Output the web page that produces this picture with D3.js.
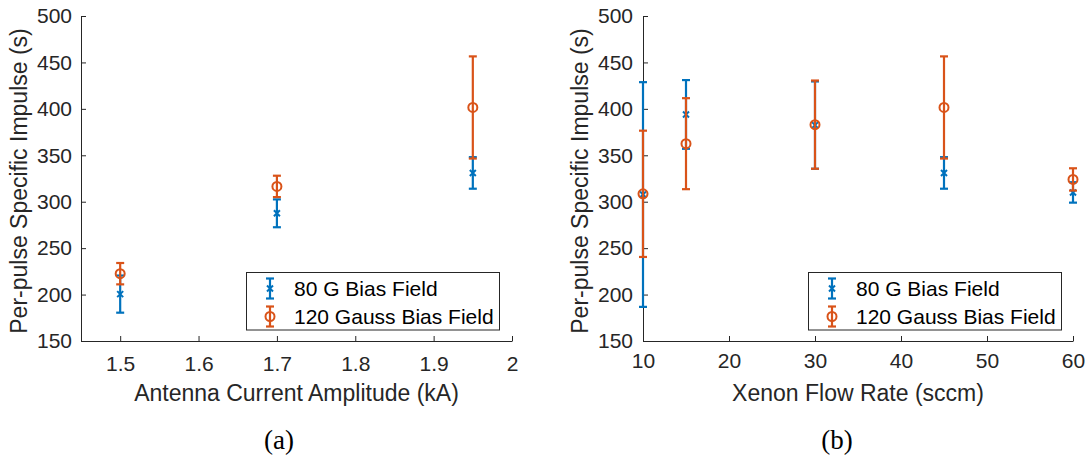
<!DOCTYPE html>
<html><head><meta charset="utf-8">
<script src="https://cdn.jsdelivr.net/npm/d3@7"></script>
<style>
html,body{margin:0;padding:0;background:#fff;}
svg{display:block;}
text{font-family:"Liberation Sans",Arial,Helvetica,sans-serif;}
</style>
</head><body>
<svg id="chart" width="1087" height="458"></svg>
<script>
// ---------- data ----------
const currentKA   = [1.5, 1.7, 1.95];
const isp80A      = [200.5, 287.5, 331];
const err80A      = [20, 15, 17];
const isp120A     = [222.5, 316.5, 401.5];
const err120A     = [11.5, 11.5, 55];

const flowSccm    = [10, 15, 30, 45, 60];
const isp80B      = [307.75, 394, 382.5, 331, 310];
const err80B      = [121, 37, 47, 17, 11];
const isp120B     = [308.5, 362.5, 383, 401.5, 324];
const err120B     = [68, 49, 47.5, 55, 12];

const yTicks      = [150, 200, 250, 300, 350, 400, 450, 500];
const xTicksA     = [1.5, 1.6, 1.7, 1.8, 1.9, 2];
const xTicksB     = [10, 20, 30, 40, 50, 60];
const seriesNames = ["80 G Bias Field", "120 Gauss Bias Field"];
const yLabel      = "Per-pulse Specific Impulse (s)";
const xLabelA     = "Antenna Current Amplitude (kA)";
const xLabelB     = "Xenon Flow Rate (sccm)";

// ---------- style ----------
const BLUE = "#0072BD", ORANGE = "#D95319", AX = "#262626";
const svg = d3.select("#chart");

function errorbars(g, x, y, xs, vals, errs, color, marker) {
  const grp = g.append("g");
  xs.forEach((xv, i) => {
    const cx = x(xv), top = y(vals[i] + errs[i]), bot = y(vals[i] - errs[i]), cy = y(vals[i]);
    grp.append("line").attr("x1", cx).attr("x2", cx).attr("y1", top).attr("y2", bot)
      .attr("stroke", color).attr("stroke-width", 2.2);
    [top, bot].forEach(yy => grp.append("line").attr("x1", cx - 4).attr("x2", cx + 4)
      .attr("y1", yy).attr("y2", yy).attr("stroke", color).attr("stroke-width", 2.2));
    drawMarker(grp, cx, cy, color, marker);
  });
}
function drawMarker(g, cx, cy, color, marker) {
  if (marker === "o") {
    g.append("circle").attr("cx", cx).attr("cy", cy).attr("r", 4.5)
      .attr("fill", "none").attr("stroke", color).attr("stroke-width", 2);
  } else {
    const s = 3;
    g.append("path").attr("d", `M${cx - s},${cy - s}L${cx + s},${cy + s}M${cx - s},${cy + s}L${cx + s},${cy - s}`)
      .attr("stroke", color).attr("stroke-width", 2).attr("fill", "none");
  }
}

function panel(opts) {
  const g = svg.append("g");
  const x = d3.scaleLinear().domain(opts.xDomain).range(opts.xRange);
  const y = d3.scaleLinear().domain([150, 500]).range([341, 16]);

  const xa = g.append("g").attr("transform", "translate(0,341)")
    .call(d3.axisBottom(x).tickValues(opts.xTicks).tickFormat(d3.format("~g"))
      .tickSizeInner(-5).tickSizeOuter(0).tickPadding(opts.xPad));
  const ya = g.append("g").attr("transform", `translate(${opts.xRange[0]},0)`)
    .call(d3.axisLeft(y).tickValues(yTicks).tickSizeInner(-5).tickSizeOuter(0).tickPadding(opts.yPad));
  [xa, ya].forEach(a => {
    a.selectAll("path,line").attr("stroke", AX).attr("stroke-width", 1);
    a.selectAll("text").attr("fill", AX).style("font-size", "21px")
      .style("font-family", '"Liberation Sans",Arial,sans-serif');
  });

  g.append("text").attr("transform", `translate(${opts.yLabX},181) rotate(-90)`)
    .attr("text-anchor", "middle").attr("dominant-baseline", "middle")
    .attr("fill", AX).style("font-size", "23px").text(yLabel);
  g.append("text").attr("x", (opts.xRange[0] + opts.xRange[1]) / 2).attr("y", 401)
    .attr("text-anchor", "middle").attr("fill", AX).style("font-size", "23px").text(opts.xLabel);

  errorbars(g, x, y, opts.xs, opts.v80, opts.e80, BLUE, "x");
  errorbars(g, x, y, opts.xs, opts.v120, opts.e120, ORANGE, "o");

  // legend
  const lg = g.append("g").attr("transform", `translate(${opts.legX},272.5)`);
  lg.append("rect").attr("x", 0).attr("y", 0).attr("width", 253).attr("height", 57.5)
    .attr("fill", "#fff").attr("stroke", AX).attr("stroke-width", 1);
  seriesNames.forEach((name, i) => {
    const cy = 16 + i * 28, sx = 23.5, col = i === 0 ? BLUE : ORANGE;
    lg.append("line").attr("x1", sx).attr("x2", sx).attr("y1", cy - 10).attr("y2", cy + 10)
      .attr("stroke", col).attr("stroke-width", 2.2);
    [cy - 10, cy + 10].forEach(yy => lg.append("line").attr("x1", sx - 4).attr("x2", sx + 4)
      .attr("y1", yy).attr("y2", yy).attr("stroke", col).attr("stroke-width", 2.2));
    drawMarker(lg, sx, cy, col, i === 0 ? "x" : "o");
    lg.append("text").attr("x", 47.5).attr("y", cy + 1.5).attr("dominant-baseline", "middle")
      .attr("fill", "#000").style("font-size", "21px").text(name);
  });

  g.append("text").attr("x", opts.capX).attr("y", 449).attr("text-anchor", "middle")
    .attr("fill", "#000").style("font-family", '"Liberation Serif","DejaVu Serif",serif')
    .style("font-size", "27px").text(opts.caption);
}

panel({ xDomain: [1.45, 2.0], xRange: [81, 512], xTicks: xTicksA, xPad: 15, yPad: 9,
  yLabX: 21, xLabel: xLabelA, xs: currentKA, v80: isp80A, e80: err80A, v120: isp120A, e120: err120A,
  legX: 246.5, capX: 279, caption: "(a)" });
panel({ xDomain: [10, 60], xRange: [643, 1073], xTicks: xTicksB, xPad: 12, yPad: 10,
  yLabX: 582, xLabel: xLabelB, xs: flowSccm, v80: isp80B, e80: err80B, v120: isp120B, e120: err120B,
  legX: 808.5, capX: 837, caption: "(b)" });
</script>
</body></html>
